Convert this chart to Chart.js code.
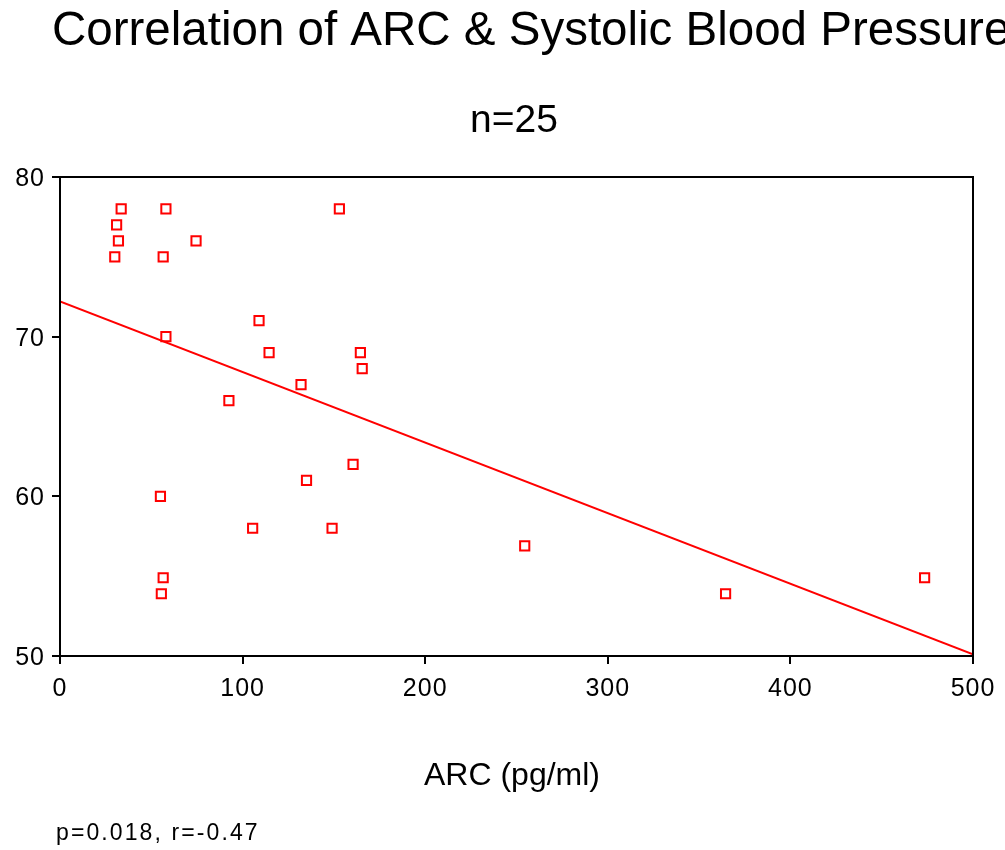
<!DOCTYPE html>
<html>
<head>
<meta charset="utf-8">
<script src="https://cdn.jsdelivr.net/npm/chart.js@4.4.1/dist/chart.umd.min.js"></script>
<style>
  html, body { margin: 0; padding: 0; background: #fff; }
  #wrap { width: 1005px; height: 850px; position: relative; }
</style>
</head>
<body>
<div id="wrap"><canvas id="c" width="1005" height="850"></canvas></div>
<script>
// ---- data ----
const arcValues = [33.5, 58, 153, 31, 32, 74.5, 30, 56.5, 109, 58, 114.5, 164.5, 165.5, 132, 92.5, 160.5, 135, 55, 105.5, 149, 254.5, 56.5, 473.5, 55.5, 364.5];
const sbpValues = [78, 78, 78, 77, 76, 76, 75, 75, 71, 70, 69, 69, 68, 67, 66, 62, 61, 60, 58, 58, 56.9, 54.9, 54.9, 53.9, 53.9];
const fitX = [0, 500];
const fitY = [72.2, 50.1];
const xTicks = [0, 100, 200, 300, 400, 500];
const yTicks = [50, 60, 70, 80];
const titleText = 'Correlation of ARC & Systolic Blood Pressure';
const subtitleText = 'n=25';
const xAxisTitle = 'ARC (pg/ml)';
const footnote = 'p=0.018, r=-0.47';

const FONT = '"Liberation Sans", Arial, Helvetica, sans-serif';

const points = arcValues.map((v, i) => ({ x: v, y: sbpValues[i] }));
const fitLine = fitX.map((v, i) => ({ x: v, y: fitY[i] }));

const spacingPlugin = {
  id: 'spacing',
  beforeDraw(chart) {
    chart.ctx.letterSpacing = '1px';
  }
};

const textPlugin = {
  id: 'texts',
  afterDraw(chart) {
    const ctx = chart.ctx;
    const a = chart.chartArea;
    ctx.save();
    // frame
    ctx.strokeStyle = '#000';
    ctx.lineWidth = 2;
    ctx.strokeRect(a.left, a.top, a.right - a.left, a.bottom - a.top);
    ctx.fillStyle = '#000';
    ctx.textBaseline = 'alphabetic';
    ctx.letterSpacing = '0px';
    ctx.textAlign = 'left';
    ctx.font = '47.5px ' + FONT;
    ctx.fillText(titleText, 52, 45);
    ctx.textAlign = 'center';
    ctx.font = '39px ' + FONT;
    ctx.fillText(subtitleText, 514, 132);
    ctx.font = '32px ' + FONT;
    ctx.fillText(xAxisTitle, 512, 785);
    ctx.textAlign = 'left';
    ctx.letterSpacing = '2.1px';
    ctx.font = '23px ' + FONT;
    ctx.fillText(footnote, 56, 840);
    ctx.restore();
  }
};

new Chart(document.getElementById('c'), {
  type: 'scatter',
  data: {
    datasets: [
      {
        label: 'SBP',
        data: points,
        pointStyle: 'rect',
        pointRadius: 6.5,
        pointHoverRadius: 6.5,
        borderColor: '#ff0000',
        backgroundColor: 'rgba(0,0,0,0)',
        pointBorderWidth: 2,
        borderWidth: 2,
        order: 1
      },
      {
        type: 'line',
        label: 'fit',
        data: fitLine,
        borderColor: '#ff0000',
        borderWidth: 2,
        pointRadius: 0,
        fill: false,
        showLine: true,
        order: 2
      }
    ]
  },
  options: {
    responsive: false,
    animation: false,
    devicePixelRatio: 1,
    layout: { padding: { left: 0, right: 32, top: 177, bottom: 0 } },
    plugins: { legend: { display: false }, tooltip: { enabled: false }, title: { display: false } },
    scales: {
      x: {
        type: 'linear',
        min: 0, max: 500,
        afterBuildTicks(scale) { scale.ticks = xTicks.map(v => ({ value: v })); },
        afterFit(scale) { scale.height = 194; },
        border: { display: true, color: '#000', width: 2 },
        grid: { drawOnChartArea: false, drawTicks: true, tickLength: 8, color: '#000', lineWidth: 2 },
        ticks: { color: '#000', font: { family: FONT, size: 25 }, padding: 10, maxRotation: 0, autoSkip: false }
      },
      y: {
        type: 'linear',
        min: 50, max: 80,
        afterBuildTicks(scale) { scale.ticks = yTicks.map(v => ({ value: v })); },
        afterFit(scale) { scale.width = 60; },
        border: { display: true, color: '#000', width: 2 },
        grid: { drawOnChartArea: false, drawTicks: true, tickLength: 8, color: '#000', lineWidth: 2 },
        ticks: { color: '#000', font: { family: FONT, size: 25 }, padding: 7, labelOffset: 2, autoSkip: false }
      }
    }
  },
  plugins: [spacingPlugin, textPlugin]
});
</script>
</body>
</html>
